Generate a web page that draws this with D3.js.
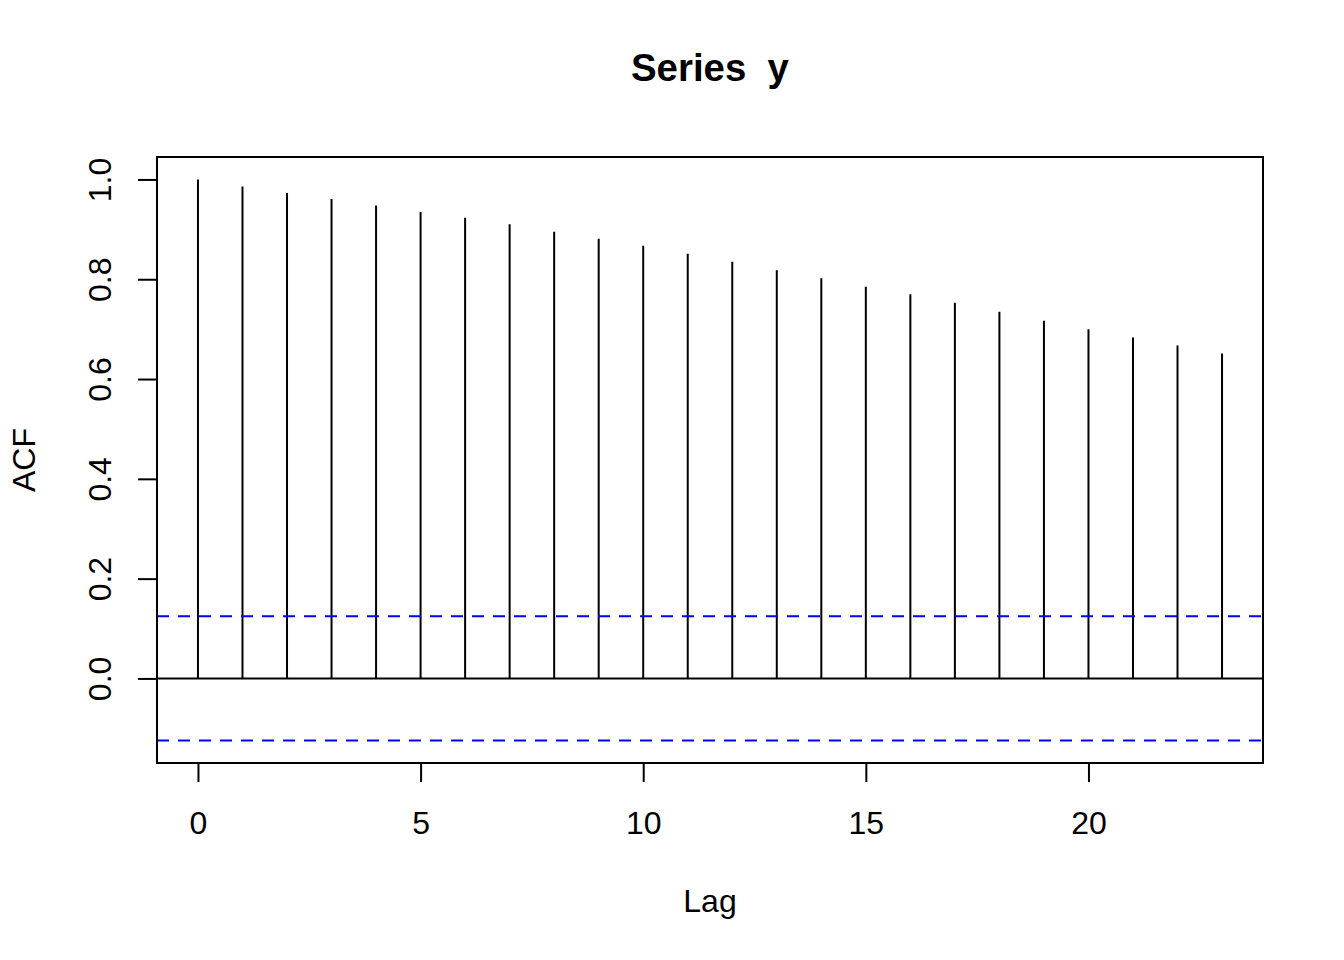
<!DOCTYPE html>
<html>
<head>
<meta charset="utf-8">
<script src="https://cdn.jsdelivr.net/npm/d3@7"></script>
<style>
  body { margin: 0; background: #fff; }
  text { font-family: "Liberation Sans", Arial, Helvetica, sans-serif; fill: #000; }
</style>
</head>
<body>
<div class="container"></div>
<script>
// acf values
let lags = [0, 1, 2, 3, 4, 5, 6, 7, 8, 9, 10, 11, 12, 13, 14, 15, 16, 17, 18, 19, 20, 21, 22, 23];
let acfValues = [1.0, 0.986, 0.973, 0.961, 0.948, 0.935, 0.923, 0.910, 0.895, 0.881, 0.867,
  0.851, 0.835, 0.818, 0.802, 0.785, 0.770, 0.753, 0.735, 0.717, 0.700, 0.683, 0.667, 0.651];
let ciBounds = [0.1245, -0.1245];
let xTicks = [0, 5, 10, 15, 20];
let yTicks = [0, 0.2, 0.4, 0.6, 0.8, 1.0];

let width = 1344, height = 960;
let box = { left: 157, right: 1263, top: 157, bottom: 763 };

var svg = d3.select(".container")
  .append("svg")
  .attr("width", width)
  .attr("height", height);

// R style 4% padding on both axes
let xMin = d3.min(lags), xMax = d3.max(lags);
let xPad = (xMax - xMin) * 0.04;
let yMin = Math.min(d3.min(acfValues), ciBounds[1]), yMax = Math.max(d3.max(acfValues), ciBounds[0]);
let yPad = (yMax - yMin) * 0.04;

let x = d3.scaleLinear().domain([xMin - xPad, xMax + xPad]).range([box.left, box.right]);
let y = d3.scaleLinear().domain([yMin - yPad, yMax + yPad]).range([box.bottom, box.top]);

let data = lags.map((l, i) => ({ lag: l, acf: acfValues[i] }));

// acf spikes
svg.selectAll("line.spike")
  .data(data)
  .enter()
  .append("line")
  .attr("class", "spike")
  .attr("x1", (d) => x(d.lag))
  .attr("x2", (d) => x(d.lag))
  .attr("y1", y(0))
  .attr("y2", (d) => y(d.acf))
  .attr("stroke", "#000")
  .attr("stroke-width", 2);

// zero line
svg.append("line")
  .attr("x1", box.left).attr("x2", box.right)
  .attr("y1", y(0)).attr("y2", y(0))
  .attr("stroke", "#000").attr("stroke-width", 2);

// confidence bounds
svg.selectAll("line.ci")
  .data(ciBounds)
  .enter()
  .append("line")
  .attr("class", "ci")
  .attr("x1", box.left).attr("x2", box.right)
  .attr("y1", (d) => y(d)).attr("y2", (d) => y(d))
  .attr("stroke", "#0000ff")
  .attr("stroke-width", 2)
  .attr("stroke-dasharray", "12,9");

// box
svg.append("rect")
  .attr("x", box.left).attr("y", box.top)
  .attr("width", box.right - box.left).attr("height", box.bottom - box.top)
  .attr("fill", "none").attr("stroke", "#000").attr("stroke-width", 2);

// axes
let xAxis = svg.append("g")
  .attr("transform", `translate(0,${box.bottom})`)
  .call(d3.axisBottom(x).tickValues(xTicks).tickSize(19).tickPadding(29).tickFormat(d3.format("d")));

let yAxis = svg.append("g")
  .attr("transform", `translate(${box.left},0)`)
  .call(d3.axisLeft(y).tickValues(yTicks).tickSize(19).tickFormat(d3.format(".1f")));

[xAxis, yAxis].forEach((g) => {
  g.select(".domain").remove();
  g.selectAll(".tick line").attr("stroke", "#000").attr("stroke-width", 2);
  g.selectAll(".tick text").attr("font-size", 32).attr("font-family", null).attr("fill", "#000");
});

// axis lines spanning first to last tick
xAxis.append("line")
  .attr("x1", x(xTicks[0])).attr("x2", x(xTicks[xTicks.length - 1]))
  .attr("stroke", "#000").attr("stroke-width", 2);
yAxis.append("line")
  .attr("y1", y(yTicks[0])).attr("y2", y(yTicks[yTicks.length - 1]))
  .attr("stroke", "#000").attr("stroke-width", 2);

// rotated y tick labels
yAxis.selectAll(".tick text")
  .attr("x", null).attr("dy", null)
  .attr("text-anchor", "middle")
  .attr("dominant-baseline", "central")
  .attr("transform", "translate(-57,0) rotate(-90)");

// titles
svg.append("text")
  .attr("x", (box.left + box.right) / 2)
  .attr("y", 81)
  .attr("text-anchor", "middle")
  .attr("font-size", 38.4)
  .attr("font-weight", "bold")
  .style("white-space", "pre")
  .text("Series  y");

svg.append("text")
  .attr("x", (box.left + box.right) / 2)
  .attr("y", 912)
  .attr("text-anchor", "middle")
  .attr("font-size", 32)
  .text("Lag");

svg.append("text")
  .attr("transform", `translate(35,${(box.top + box.bottom) / 2}) rotate(-90)`)
  .attr("text-anchor", "middle")
  .attr("font-size", 32)
  .text("ACF");
</script>
</body>
</html>
